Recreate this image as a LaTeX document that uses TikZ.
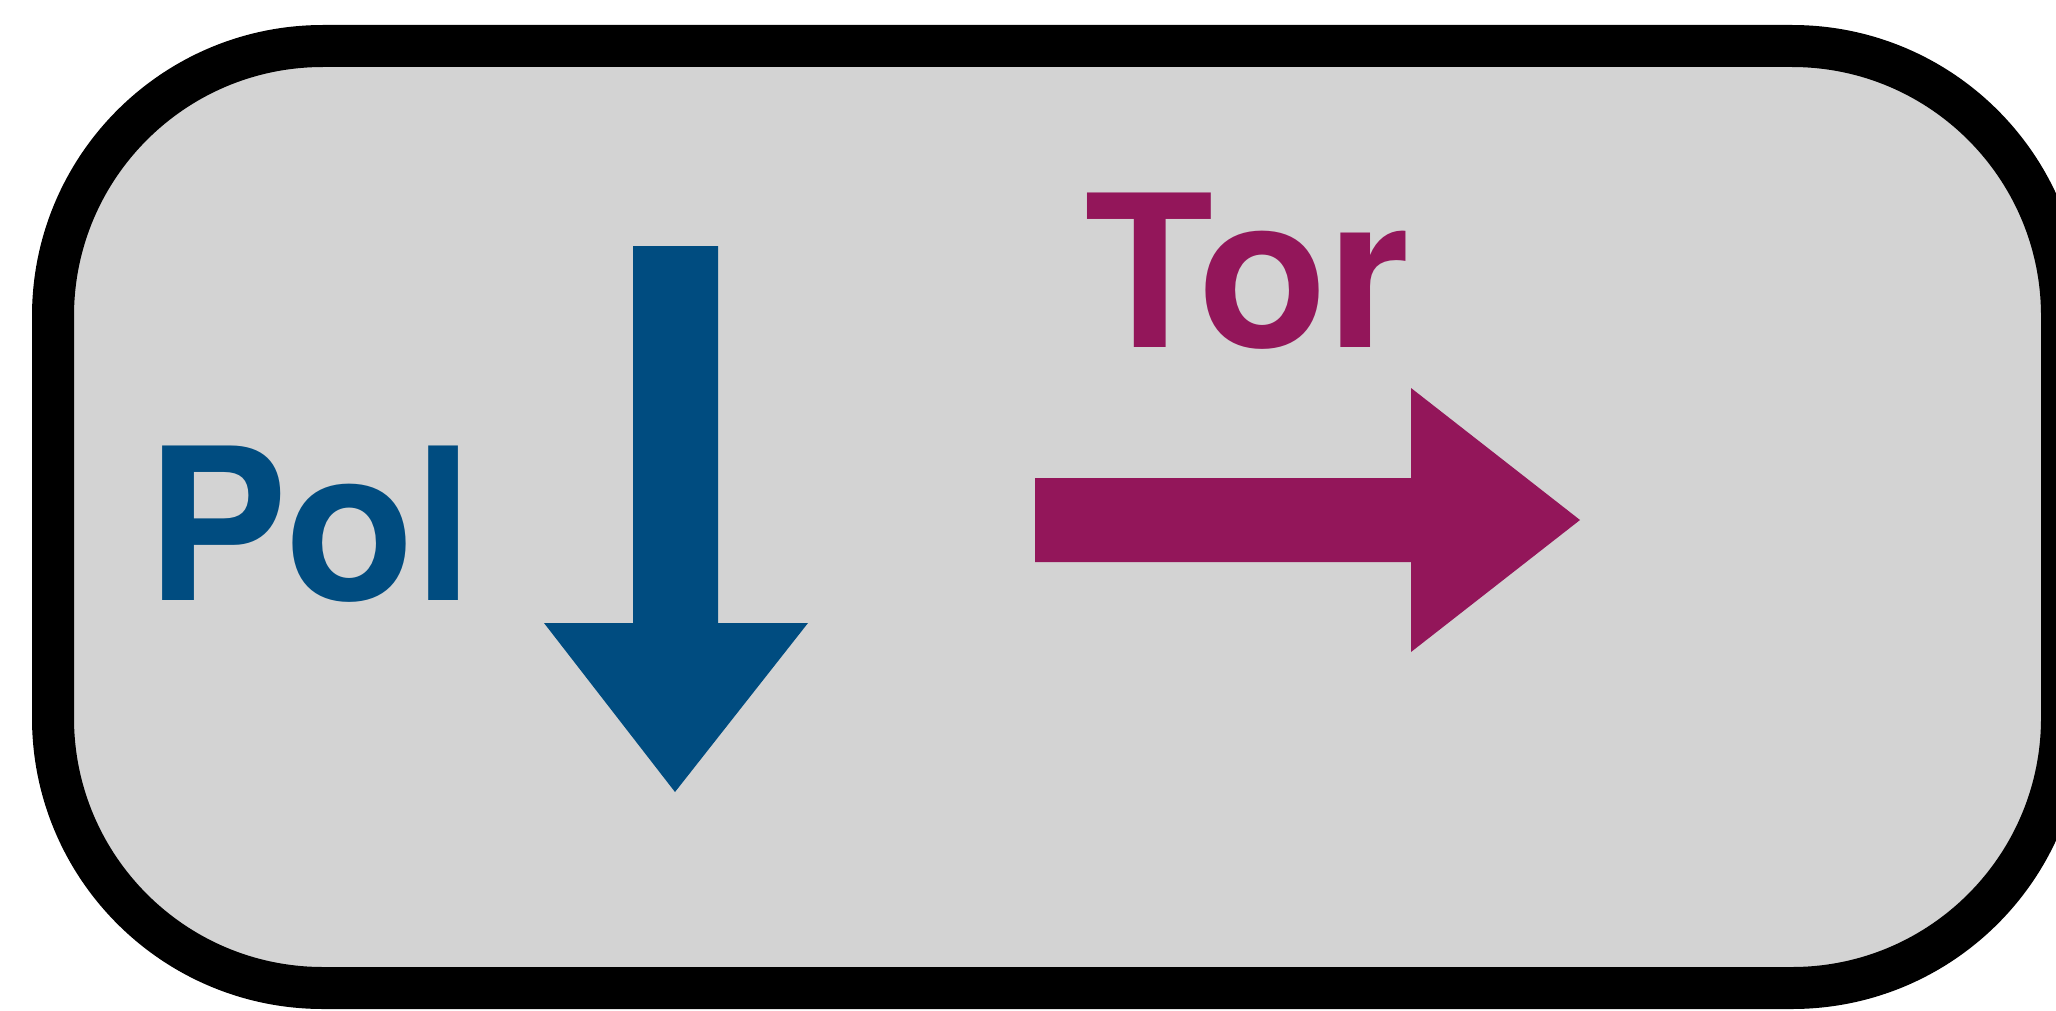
\documentclass[tikz,border=0pt]{standalone}
\usepackage{fontspec}
\setmainfont{TeX Gyre Heros}
\definecolor{polblue}{RGB}{0,76,128}
\definecolor{tormag}{RGB}{147,22,90}
\definecolor{boxgray}{RGB}{211,211,211}
\tikzset{
  frame/.style={draw=black, fill=boxgray, line width=21pt, rounded corners=135pt},
  label/.style={inner sep=0pt, anchor=base, font=\fontsize{106}{106}\selectfont\bfseries},
  polarrow/.style={fill=polblue, draw=none},
  torarrow/.style={fill=tormag, draw=none}
}
\begin{document}
\begin{tikzpicture}[x=0.5pt,y=-0.5pt]
\useasboundingbox (0,0) rectangle (2056,1011);
\clip (0,0) rectangle (2056,1011);
% frame
\draw[frame] (53,46) rectangle (2062,988);
% Pol arrow
\fill[polarrow] (633,246) -- (718,246) -- (718,623) -- (808,623) -- (675,792) -- (544,623) -- (633,623) -- cycle;
% Tor arrow
\fill[torarrow] (1035,478) -- (1411,478) -- (1411,388) -- (1580,520) -- (1411,652) -- (1411,562) -- (1035,562) -- cycle;
% labels
\node[label, text=polblue] (pol) at (310,600) {Pol};
\node[label, text=tormag] (tor) at (1247,347) {Tor};
\end{tikzpicture}
\end{document}
